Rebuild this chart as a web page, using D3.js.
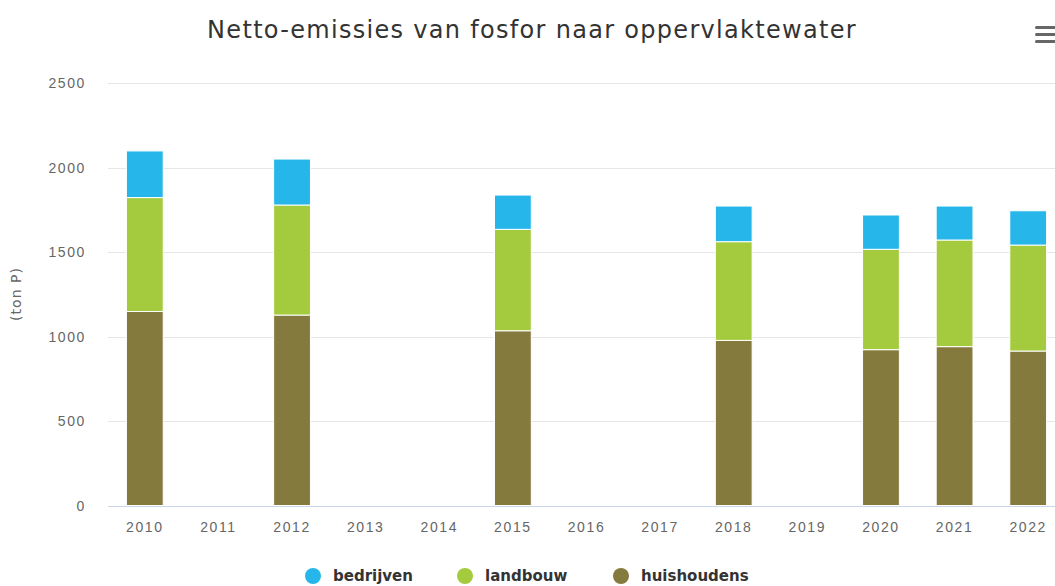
<!DOCTYPE html>
<html>
<head>
<meta charset="utf-8">
<script src="https://cdn.jsdelivr.net/npm/d3@7"></script>
<style>
  body { margin: 0; background: #fff; overflow: hidden; }
  svg { display: block; font-family: "DejaVu Sans", Verdana, sans-serif; }
</style>
</head>
<body>
<div id="chart"></div>
<script>
var years = ["2010", "2011", "2012", "2013", "2014", "2015", "2016", "2017", "2018", "2019", "2020", "2021", "2022"];
var huishoudens = [1148, null, 1127, null, null, 1034, null, null, 977, null, 922, 940, 914];
var landbouw = [674, null, 651, null, null, 600, null, null, 584, null, 594, 631, 627];
var bedrijven = [276, null, 272, null, null, 203, null, null, 211, null, 203, 201, 203];
var yTicks = [0, 500, 1000, 1500, 2000, 2500];
var seriesNames = ["bedrijven", "landbouw", "huishoudens"];
var colors = { bedrijven: "#27b6ea", landbouw: "#a3cb3d", huishoudens: "#857a3d" };

var width = 1055, height = 586;
var svg = d3.select("#chart").append("svg").attr("width", width).attr("height", height);

var x = d3.scaleBand().domain(years).range([108, 1065]).paddingInner(0.5).paddingOuter(0.25);
var y = d3.scaleLinear().domain([0, 2500]).range([505.5, 83]);

// title
svg.append("text").attr("x", 532).attr("y", 38).attr("text-anchor", "middle")
  .style("font-size", "24px").style("fill", "#333").style("letter-spacing", "1.3px")
  .text("Netto-emissies van fosfor naar oppervlaktewater");

// gridlines
svg.append("g").selectAll("line").data(yTicks.filter(d => d > 0)).enter().append("line")
  .attr("x1", 108).attr("x2", width).attr("y1", d => Math.round(y(d)) + 0.5).attr("y2", d => Math.round(y(d)) + 0.5)
  .attr("stroke", "#e6e6e6").attr("stroke-width", 1);

// y axis labels
var yAxis = d3.axisLeft(y).tickValues(yTicks).tickFormat(d3.format("d")).tickSize(0).tickPadding(0);
var gy = svg.append("g").attr("transform", "translate(86,0)").call(yAxis);
gy.select(".domain").remove();
gy.selectAll("text").style("font-size", "14px").style("fill", "#666").style("letter-spacing", "1.6px").attr("dy", "0.35em");

svg.append("text").attr("transform", "translate(21,294) rotate(-90)").attr("text-anchor", "middle")
  .style("font-size", "14px").style("fill", "#666").style("letter-spacing", "1px").text("(ton P)");

// stacked bars
var rows = years.map(function (yr, i) {
  return { year: yr, huishoudens: huishoudens[i] || 0, landbouw: landbouw[i] || 0, bedrijven: bedrijven[i] || 0 };
});
var stack = d3.stack().keys(["huishoudens", "landbouw", "bedrijven"]);
var layers = stack(rows);

svg.append("g").selectAll("g").data(layers).enter().append("g")
  .attr("fill", d => colors[d.key])
  .selectAll("rect").data(d => d.filter(p => p[1] > p[0])).enter().append("rect")
  .attr("x", d => x(d.data.year))
  .attr("y", d => y(d[1]))
  .attr("width", x.bandwidth())
  .attr("height", d => y(d[0]) - y(d[1]))
  .attr("stroke", "#fff").attr("stroke-width", 1);

// x axis
var xAxis = d3.axisBottom(x).tickSize(0).tickPadding(16);
var gx = svg.append("g").attr("transform", "translate(0,506)").call(xAxis);
gx.select(".domain").attr("stroke", "#ccd6eb").attr("d", "M108,0.5H" + width);
gx.selectAll("text").style("font-size", "14px").style("fill", "#666").style("letter-spacing", "1.6px");

// legend
var legendX = [313, 465, 621];
var lg = svg.append("g").selectAll("g").data(seriesNames).enter().append("g")
  .attr("transform", (d, i) => "translate(" + legendX[i] + ",576)");
lg.append("circle").attr("r", 8).attr("fill", d => colors[d]);
lg.append("text").attr("x", 20).attr("dy", "0.36em")
  .style("font-size", "15px").style("font-weight", "bold").style("fill", "#333").text(d => d);

// menu icon
svg.append("g").selectAll("rect").data([0, 1, 2]).enter().append("rect")
  .attr("x", 1035).attr("y", d => 26 + d * 7).attr("width", 22).attr("height", 3).attr("rx", 1.5)
  .attr("fill", "#666");
</script>
</body>
</html>
